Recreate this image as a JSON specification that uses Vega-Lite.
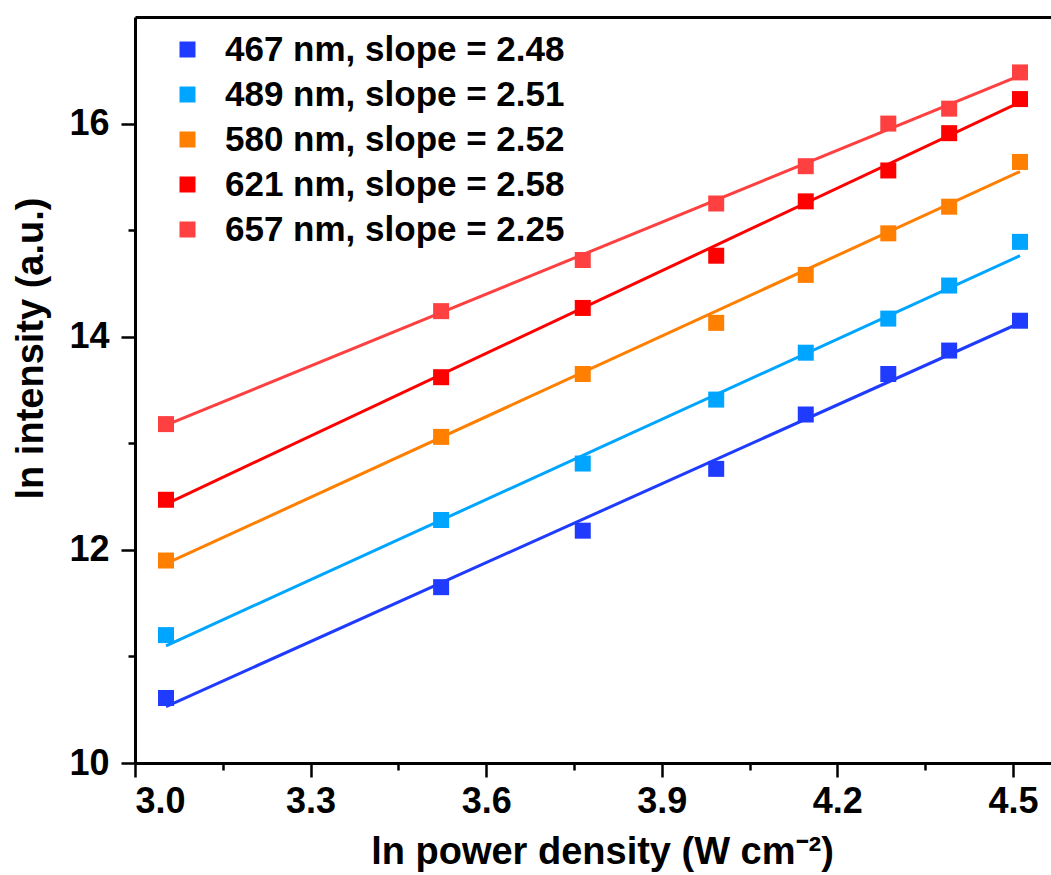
{
  "$schema": "https://vega.github.io/schema/vega-lite/v6.json",
  "width": 916,
  "height": 746,
  "autosize": {"type": "none"},
  "padding": {"left": 135, "top": 17, "right": 0, "bottom": 112},
  "background": "white",
  "datasets": {
    "points": [
      {"x": 3.053, "y": 10.61, "series": "467 nm, slope = 2.48"},
      {"x": 3.523, "y": 11.65, "series": "467 nm, slope = 2.48"},
      {"x": 3.765, "y": 12.18, "series": "467 nm, slope = 2.48"},
      {"x": 3.993, "y": 12.76, "series": "467 nm, slope = 2.48"},
      {"x": 4.146, "y": 13.27, "series": "467 nm, slope = 2.48"},
      {"x": 4.287, "y": 13.65, "series": "467 nm, slope = 2.48"},
      {"x": 4.391, "y": 13.87, "series": "467 nm, slope = 2.48"},
      {"x": 4.512, "y": 14.15, "series": "467 nm, slope = 2.48"},
      {"x": 3.053, "y": 11.20, "series": "489 nm, slope = 2.51"},
      {"x": 3.523, "y": 12.28, "series": "489 nm, slope = 2.51"},
      {"x": 3.765, "y": 12.81, "series": "489 nm, slope = 2.51"},
      {"x": 3.993, "y": 13.41, "series": "489 nm, slope = 2.51"},
      {"x": 4.146, "y": 13.85, "series": "489 nm, slope = 2.51"},
      {"x": 4.287, "y": 14.17, "series": "489 nm, slope = 2.51"},
      {"x": 4.391, "y": 14.48, "series": "489 nm, slope = 2.51"},
      {"x": 4.512, "y": 14.89, "series": "489 nm, slope = 2.51"},
      {"x": 3.053, "y": 11.90, "series": "580 nm, slope = 2.52"},
      {"x": 3.523, "y": 13.06, "series": "580 nm, slope = 2.52"},
      {"x": 3.765, "y": 13.65, "series": "580 nm, slope = 2.52"},
      {"x": 3.993, "y": 14.13, "series": "580 nm, slope = 2.52"},
      {"x": 4.146, "y": 14.58, "series": "580 nm, slope = 2.52"},
      {"x": 4.287, "y": 14.97, "series": "580 nm, slope = 2.52"},
      {"x": 4.391, "y": 15.22, "series": "580 nm, slope = 2.52"},
      {"x": 4.512, "y": 15.64, "series": "580 nm, slope = 2.52"},
      {"x": 3.053, "y": 12.47, "series": "621 nm, slope = 2.58"},
      {"x": 3.523, "y": 13.62, "series": "621 nm, slope = 2.58"},
      {"x": 3.765, "y": 14.27, "series": "621 nm, slope = 2.58"},
      {"x": 3.993, "y": 14.76, "series": "621 nm, slope = 2.58"},
      {"x": 4.146, "y": 15.27, "series": "621 nm, slope = 2.58"},
      {"x": 4.287, "y": 15.56, "series": "621 nm, slope = 2.58"},
      {"x": 4.391, "y": 15.91, "series": "621 nm, slope = 2.58"},
      {"x": 4.512, "y": 16.23, "series": "621 nm, slope = 2.58"},
      {"x": 3.053, "y": 13.18, "series": "657 nm, slope = 2.25"},
      {"x": 3.523, "y": 14.24, "series": "657 nm, slope = 2.25"},
      {"x": 3.765, "y": 14.72, "series": "657 nm, slope = 2.25"},
      {"x": 3.993, "y": 15.25, "series": "657 nm, slope = 2.25"},
      {"x": 4.146, "y": 15.60, "series": "657 nm, slope = 2.25"},
      {"x": 4.287, "y": 16.00, "series": "657 nm, slope = 2.25"},
      {"x": 4.391, "y": 16.14, "series": "657 nm, slope = 2.25"},
      {"x": 4.512, "y": 16.48, "series": "657 nm, slope = 2.25"}
    ],
    "fits": [
      {"x": 3.053, "y": 10.53, "series": "467 nm, slope = 2.48"},
      {"x": 4.512, "y": 14.13, "series": "467 nm, slope = 2.48"},
      {"x": 3.053, "y": 11.10, "series": "489 nm, slope = 2.51"},
      {"x": 4.512, "y": 14.76, "series": "489 nm, slope = 2.51"},
      {"x": 3.053, "y": 11.87, "series": "580 nm, slope = 2.52"},
      {"x": 4.512, "y": 15.55, "series": "580 nm, slope = 2.52"},
      {"x": 3.053, "y": 12.43, "series": "621 nm, slope = 2.58"},
      {"x": 4.512, "y": 16.20, "series": "621 nm, slope = 2.58"},
      {"x": 3.053, "y": 13.17, "series": "657 nm, slope = 2.25"},
      {"x": 4.512, "y": 16.45, "series": "657 nm, slope = 2.25"}
    ]
  },
  "layer": [
    {
      "data": {"name": "points"},
      "mark": {"type": "point", "shape": "square", "filled": true, "size": 256, "opacity": 1, "strokeWidth": 0},
      "encoding": {
        "x": {"field": "x", "type": "quantitative", "scale": {"domain": [3.0, 4.565], "nice": false, "zero": false},
          "axis": {"orient": "bottom", "values": [3.0, 3.3, 3.6, 3.9, 4.2, 4.5], "format": ".1f", "tickSize": 14, "labelPadding": 7,
            "title": "ln power density (W cm⁻²)", "titleX": 467, "titleY": 100, "titleBaseline": "alphabetic", "titleAlign": "center"}},
        "y": {"field": "y", "type": "quantitative", "scale": {"domain": [10, 17], "nice": false, "zero": false},
          "axis": {"orient": "left", "values": [10, 12, 14, 16], "tickSize": 14, "labelPadding": 12,
            "title": "ln intensity (a.u.)", "titleX": -104, "titleY": 331, "titleAngle": -90, "titleBaseline": "middle", "titleAlign": "center"}},
        "color": {"field": "series", "type": "nominal",
          "scale": {"domain": ["467 nm, slope = 2.48", "489 nm, slope = 2.51", "580 nm, slope = 2.52", "621 nm, slope = 2.58", "657 nm, slope = 2.25"],
                    "range": ["#1F3BFF", "#00A5FF", "#FF7F00", "#FF0000", "#FF4040"]},
          "legend": {"orient": "none", "legendX": 35, "legendY": 15, "title": null, "symbolType": "square", "symbolSize": 256,
            "symbolStrokeWidth": 0, "labelFontSize": 35, "labelFont": "Liberation Sans, Arial, sans-serif", "labelFontWeight": "bold",
            "labelColor": "black", "labelOffset": 20, "rowPadding": 9, "padding": 0, "labelLimit": 0}}
      }
    },
    {
      "data": {"name": "fits"},
      "mark": {"type": "line", "strokeWidth": 3},
      "encoding": {
        "x": {"field": "x", "type": "quantitative", "axis": null},
        "y": {"field": "y", "type": "quantitative", "axis": null},
        "stroke": {"field": "series", "type": "nominal",
          "scale": {"domain": ["467 nm, slope = 2.48", "489 nm, slope = 2.51", "580 nm, slope = 2.52", "621 nm, slope = 2.58", "657 nm, slope = 2.25"],
                    "range": ["#1F3BFF", "#00A5FF", "#FF7F00", "#FF0000", "#FF4040"]},
          "legend": null}
      }
    },
    {
      "data": {"name": "points"},
      "mark": {"type": "point", "opacity": 0},
      "encoding": {
        "x": {"field": "x", "type": "quantitative",
          "axis": {"orient": "bottom", "values": [3.15, 3.45, 3.75, 4.05, 4.35], "tickSize": 7, "labels": false, "domain": false, "title": null}},
        "y": {"field": "y", "type": "quantitative",
          "axis": {"orient": "left", "values": [11, 13, 15], "tickSize": 7, "labels": false, "domain": false, "title": null}}
      }
    },
    {
      "data": {"name": "points"},
      "mark": {"type": "point", "opacity": 0},
      "encoding": {
        "x": {"field": "x", "type": "quantitative",
          "axis": {"orient": "top", "ticks": false, "labels": false, "domain": true, "title": null}},
        "y": {"field": "y", "type": "quantitative", "axis": null}
      }
    }
  ],
  "resolve": {"axis": {"x": "independent", "y": "independent"}},
  "config": {
    "view": {"stroke": null},
    "axis": {
      "grid": false,
      "domainColor": "black", "domainWidth": 3,
      "tickColor": "black", "tickWidth": 2.5,
      "labelFont": "Liberation Sans, Arial, sans-serif", "labelFontWeight": "bold", "labelFontSize": 36, "labelColor": "black",
      "titleFont": "Liberation Sans, Arial, sans-serif", "titleFontWeight": "bold", "titleFontSize": 38, "titleColor": "black"
    }
  }
}
